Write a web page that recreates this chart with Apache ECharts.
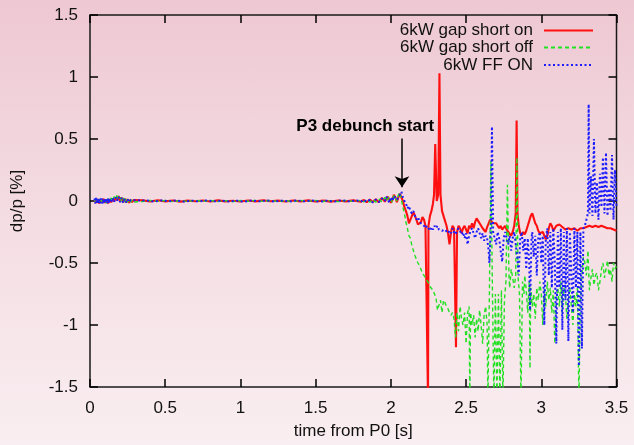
<!DOCTYPE html>
<html>
<head>
<meta charset="utf-8">
<script src="https://cdn.jsdelivr.net/npm/echarts@6/dist/echarts.min.js"></script>
<style>
html,body{margin:0;padding:0;}
#chart{width:634px;height:445px;background:linear-gradient(to bottom,#eec8d2 0%,#f4dde3 50%,#f9eef1 100%);}
</style>
</head>
<body>
<div id="chart"></div>
<script>
// ---- data ----
const seriesNames = ['6kW gap short on', '6kW gap short off', '6kW FF ON'];
const xRange = [0, 3.5, 0.5];     // min, max, tick step  (time from P0 [s])
const yRange = [-1.5, 1.5, 0.5];  // min, max, tick step  (dp/p [%])
const xAxisTitle = 'time from P0 [s]';
const yAxisTitle = 'dp/p [%]';
const annotationText = 'P3 debunch start';
const annotationLabelAt = [1.83, 0.6];
const arrowFrom = [2.074, 0.505];
const arrowTo = [2.074, 0.11];

// 6kW gap short on  [t, dp/p]
const shortOn = [
[0.03,0.01],[0.04,-0.015],[0.05,0.015],[0.06,-0.02],[0.07,0.012],[0.08,-0.012],[0.09,0.018],[0.10,-0.015],[0.11,0.01],[0.12,-0.02],
[0.13,0.015],[0.14,-0.01],[0.15,0.02],[0.16,-0.005],[0.17,0.03],[0.18,0.005],[0.19,0.04],[0.20,0.0],[0.21,0.028],[0.22,-0.012],
[0.23,0.02],[0.24,-0.01],[0.25,0.014],[0.26,-0.014],[0.27,0.01],[0.28,-0.01],[0.29,0.008],[0.30,-0.006],
[0.35,0.005],[0.40,-0.004],[0.45,0.006],[0.50,-0.003],[0.55,0.004],[0.60,-0.005],[0.65,0.003],[0.70,-0.002],[0.75,0.004],[0.80,-0.004],
[0.85,0.005],[0.90,-0.003],[0.95,0.002],[1.00,-0.004],[1.05,0.004],[1.10,-0.003],[1.15,0.005],[1.20,-0.002],[1.25,0.003],[1.30,-0.004],
[1.35,0.004],[1.40,-0.003],[1.45,0.005],[1.50,-0.004],[1.55,0.003],[1.60,-0.005],[1.65,0.004],[1.70,-0.003],[1.75,0.005],[1.80,-0.006],
[1.82,0.008],[1.84,-0.01],[1.86,0.012],[1.88,-0.008],[1.90,0.015],[1.92,-0.01],[1.94,0.025],[1.96,-0.005],[1.97,-0.015],[1.98,0.035],
[1.99,0.02],[2.00,-0.015],[2.01,0.01],[2.02,0.05],[2.03,0.03],[2.04,-0.01],[2.05,0.03],[2.06,0.06],[2.07,0.075],
[2.08,0.0],[2.09,-0.05],[2.10,-0.08],[2.11,-0.12],[2.12,-0.18],[2.13,-0.17],[2.14,-0.12],[2.15,-0.09],[2.16,-0.12],[2.17,-0.15],
[2.18,-0.19],[2.19,-0.2],[2.20,-0.17],[2.21,-0.13],[2.22,-0.15],[2.23,-0.2],[2.24,-0.21],[2.247,-1.6],[2.25,-0.2],[2.26,-0.12],
[2.27,-0.08],[2.28,-0.02],[2.287,0.05],[2.295,0.46],[2.305,0.0],[2.315,0.05],[2.323,1.03],[2.33,0.05],[2.34,-0.08],[2.35,-0.12],
[2.36,-0.16],[2.37,-0.2],[2.38,-0.26],[2.39,-0.35],[2.40,-0.25],[2.41,-0.2],[2.42,-0.22],[2.433,-1.18],[2.44,-0.25],[2.45,-0.2],
[2.46,-0.22],[2.47,-0.26],[2.48,-0.22],[2.49,-0.2],[2.50,-0.23],[2.51,-0.26],[2.52,-0.2],[2.53,-0.22],[2.54,-0.18],[2.55,-0.22],
[2.56,-0.17],[2.57,-0.14],[2.58,-0.16],[2.59,-0.18],[2.60,-0.2],[2.61,-0.22],[2.62,-0.23],[2.63,-0.25],[2.64,-0.21],[2.65,-0.18],
[2.66,-0.15],[2.67,-0.16],[2.68,-0.18],[2.69,-0.19],[2.70,-0.18],[2.71,-0.2],[2.72,-0.22],[2.73,-0.2],[2.74,-0.23],[2.75,-0.22],
[2.76,-0.2],[2.77,-0.23],[2.78,-0.25],[2.79,-0.26],[2.80,-0.28],[2.81,-0.25],[2.82,-0.2],[2.83,-0.1],[2.836,0.65],[2.842,-0.1],
[2.85,-0.2],[2.86,-0.26],[2.87,-0.28],[2.88,-0.25],[2.89,-0.27],[2.90,-0.24],[2.91,-0.2],[2.92,-0.16],[2.93,-0.12],[2.94,-0.1],
[2.95,-0.14],[2.96,-0.18],[2.97,-0.2],[2.98,-0.24],[2.99,-0.26],[3.00,-0.27],[3.01,-0.25],[3.02,-0.28],[3.03,-0.31],[3.04,-0.28],
[3.05,-0.22],[3.06,-0.18],[3.07,-0.2],[3.08,-0.24],[3.09,-0.22],[3.10,-0.2],[3.12,-0.19],[3.14,-0.21],[3.16,-0.23],[3.18,-0.22],
[3.20,-0.23],[3.22,-0.22],[3.24,-0.24],[3.26,-0.22],[3.28,-0.22],[3.30,-0.21],[3.32,-0.2],[3.34,-0.21],[3.36,-0.2],[3.38,-0.21],
[3.40,-0.2],[3.42,-0.21],[3.44,-0.22],[3.46,-0.22],[3.48,-0.23],[3.50,-0.24]
];

// 6kW gap short off  [t, dp/p]
const shortOff = [
[0.03,-0.005],[0.04,0.018],[0.05,-0.01],[0.06,0.015],[0.07,-0.015],[0.08,0.02],[0.09,-0.008],[0.10,0.016],[0.11,-0.018],[0.12,0.02],
[0.13,-0.006],[0.14,0.025],[0.15,-0.002],[0.16,0.035],[0.17,0.01],[0.18,0.055],[0.19,0.02],[0.20,0.04],[0.21,-0.005],[0.22,0.025],
[0.23,-0.015],[0.24,0.02],[0.25,-0.01],[0.26,0.015],[0.27,-0.01],[0.28,0.01],[0.29,-0.008],[0.30,0.008],
[0.35,-0.004],[0.40,0.005],[0.45,-0.003],[0.50,0.004],[0.55,-0.005],[0.60,0.003],[0.65,-0.004],[0.70,0.005],[0.75,-0.002],[0.80,0.004],
[0.85,-0.004],[0.90,0.003],[0.95,-0.005],[1.00,0.004],[1.05,-0.002],[1.10,0.005],[1.15,-0.003],[1.20,0.004],[1.25,-0.004],[1.30,0.003],
[1.35,-0.005],[1.40,0.004],[1.45,-0.002],[1.50,0.005],[1.55,-0.004],[1.60,0.003],[1.65,-0.005],[1.70,0.004],[1.75,-0.003],[1.80,0.006],
[1.82,-0.008],[1.84,0.01],[1.86,-0.01],[1.88,0.012],[1.90,-0.01],[1.92,0.015],[1.94,-0.005],[1.96,0.03],[1.97,0.0],[1.98,-0.015],
[1.99,0.035],[2.00,0.02],[2.01,-0.01],[2.02,0.045],[2.03,0.02],[2.04,0.0],[2.05,0.05],[2.06,0.07],[2.07,0.06],
[2.08,-0.05],[2.09,-0.1],[2.10,-0.17],[2.11,-0.22],[2.12,-0.28],[2.13,-0.3],[2.14,-0.36],[2.15,-0.4],[2.16,-0.44],[2.17,-0.47],
[2.18,-0.5],[2.19,-0.52],[2.20,-0.55],[2.21,-0.58],[2.22,-0.6],[2.23,-0.62],[2.24,-0.63],[2.25,-0.66],[2.26,-0.69],[2.27,-0.7],
[2.28,-0.72],[2.29,-0.75],[2.30,-0.78],[2.31,-0.88],[2.32,-0.84],[2.33,-0.8],[2.34,-0.9],[2.35,-0.8],[2.36,-0.82],[2.37,-0.85],
[2.38,-0.87],[2.39,-0.9],[2.40,-0.92],[2.41,-0.9],[2.42,-0.95],[2.43,-1.1],[2.44,-0.9],[2.45,-1.05],[2.46,-0.85],[2.47,-0.95],
[2.48,-1.0],[2.49,-0.9],[2.50,-1.15],[2.51,-0.9],[2.52,-0.85],[2.525,-1.6],[2.53,-0.9],[2.54,-1.0],[2.55,-0.92],[2.56,-1.1],
[2.57,-0.95],[2.58,-1.05],[2.59,-0.88],[2.60,-1.0],[2.61,-1.15],[2.62,-0.92],[2.63,-0.85],[2.64,-1.0],[2.645,-1.6],[2.655,-0.75],
[2.665,0.32],[2.675,-0.7],[2.685,-1.6],[2.695,-0.75],[2.705,-1.6],[2.715,-0.75],[2.725,-1.6],[2.735,-0.72],[2.745,-1.6],[2.755,-0.8],
[2.765,-0.65],[2.775,0.13],[2.785,-0.6],[2.79,-0.7],[2.80,-0.55],[2.81,-0.62],[2.82,-0.7],[2.83,-0.6],[2.838,0.35],[2.845,-0.6],
[2.855,-0.75],[2.865,-1.6],[2.875,-0.65],[2.885,-0.75],[2.89,-0.6],[2.90,-0.72],[2.91,-0.9],[2.92,-0.65],[2.925,-1.35],[2.93,-0.7],
[2.94,-0.85],[2.95,-0.75],[2.96,-0.95],[2.97,-0.7],[2.98,-0.8],[2.99,-0.65],[3.00,-0.75],[3.01,-1.0],[3.02,-0.7],[3.03,-0.85],
[3.04,-0.65],[3.05,-0.8],[3.06,-0.7],[3.07,-0.9],[3.08,-0.72],[3.09,-1.15],[3.10,-0.8],[3.11,-0.7],[3.12,-0.85],[3.13,-0.65],
[3.14,-0.9],[3.15,-0.7],[3.16,-0.75],[3.17,-0.95],[3.18,-0.8],[3.19,-0.7],[3.20,-0.85],[3.21,-1.0],[3.22,-0.75],[3.23,-0.85],
[3.24,-0.7],[3.25,-1.6],[3.26,-0.8],[3.27,-0.6],[3.28,-0.45],[3.29,-0.5],[3.30,-0.6],[3.31,-0.4],[3.32,-0.72],[3.33,-0.62],
[3.34,-0.55],[3.35,-0.68],[3.36,-0.6],[3.37,-0.58],[3.38,-0.72],[3.39,-0.65],[3.40,-0.55],[3.41,-0.5],[3.42,-0.62],[3.43,-0.55],
[3.44,-0.48],[3.45,-0.6],[3.46,-0.55],[3.47,-0.65],[3.48,-0.5],[3.49,-0.55],[3.50,-0.52]
];

// 6kW FF ON  [t, dp/p]
const ffOn = [
[0.03,0.02],[0.035,-0.02],[0.04,0.025],[0.045,-0.015],[0.05,0.02],[0.055,-0.025],[0.06,0.018],[0.065,-0.02],[0.07,0.022],[0.075,-0.018],
[0.08,0.02],[0.085,-0.022],[0.09,0.018],[0.095,-0.02],[0.10,0.022],[0.105,-0.015],[0.11,0.02],[0.115,-0.02],[0.12,0.018],[0.125,-0.015],
[0.13,0.02],[0.14,-0.012],[0.15,0.025],[0.16,-0.01],[0.17,0.03],[0.18,0.0],[0.19,0.035],[0.20,-0.01],[0.21,0.025],[0.22,-0.015],
[0.23,0.018],[0.24,-0.012],[0.25,0.012],[0.26,-0.01],[0.27,0.008],[0.28,-0.008],[0.29,0.006],[0.30,-0.005],
[0.375,0.004],[0.425,-0.004],[0.475,0.005],[0.525,-0.003],[0.575,0.004],[0.625,-0.005],[0.675,0.003],[0.725,-0.004],[0.775,0.005],[0.825,-0.003],
[0.875,0.004],[0.925,-0.004],[0.975,0.003],[1.025,-0.005],[1.075,0.004],[1.125,-0.003],[1.175,0.005],[1.225,-0.004],[1.275,0.003],[1.325,-0.004],
[1.375,0.005],[1.425,-0.003],[1.475,0.004],[1.525,-0.005],[1.575,0.003],[1.625,-0.004],[1.675,0.005],[1.725,-0.003],[1.775,0.004],
[1.80,-0.006],[1.82,0.01],[1.84,-0.008],[1.86,0.01],[1.88,-0.012],[1.90,0.012],[1.92,-0.008],[1.94,0.02],[1.96,0.0],[1.97,0.035],
[1.98,0.01],[1.99,-0.015],[2.00,0.03],[2.01,0.0],[2.02,0.04],[2.03,0.05],[2.04,0.01],[2.05,0.0],[2.06,0.05],[2.07,0.075],
[2.08,0.03],[2.09,0.0],[2.10,-0.02],[2.11,-0.06],[2.12,-0.04],[2.13,-0.08],[2.14,-0.1],[2.15,-0.08],[2.16,-0.12],[2.17,-0.15],
[2.18,-0.13],[2.19,-0.16],[2.20,-0.18],[2.21,-0.17],[2.22,-0.2],[2.23,-0.22],[2.24,-0.2],[2.25,-0.22],[2.26,-0.24],[2.27,-0.21],
[2.28,-0.23],[2.29,-0.2],[2.30,-0.22],[2.31,-0.2],[2.32,-0.23],[2.33,-0.22],[2.34,-0.24],[2.35,-0.25],[2.36,-0.23],[2.37,-0.24],
[2.38,-0.26],[2.39,-0.24],[2.40,-0.26],[2.41,-0.22],[2.42,-0.25],[2.43,-0.27],[2.44,-0.24],[2.45,-0.22],[2.46,-0.24],[2.47,-0.27],
[2.48,-0.25],[2.49,-0.3],[2.50,-0.26],[2.51,-0.35],[2.52,-0.28],[2.53,-0.24],[2.54,-0.22],[2.55,-0.26],[2.56,-0.3],[2.57,-0.25],
[2.58,-0.22],[2.59,-0.26],[2.60,-0.3],[2.61,-0.26],[2.62,-0.32],[2.63,-0.28],[2.64,-0.3],[2.65,-0.4],[2.655,-0.5],[2.665,-0.2],
[2.672,0.6],[2.68,-0.25],[2.69,-0.3],[2.70,-0.35],[2.71,-0.25],[2.72,-0.3],[2.73,-0.4],[2.74,-0.49],[2.75,-0.3],[2.76,-0.25],
[2.77,-0.3],[2.78,-0.35],[2.79,-0.28],[2.80,-0.4],[2.81,-0.3],[2.82,-0.25],[2.83,-0.35],[2.84,-0.45],[2.85,-0.6],[2.86,-0.3],
[2.87,-0.25],[2.88,-0.4],[2.89,-0.3],[2.90,-0.55],[2.91,-0.3],[2.92,-0.5],[2.925,-0.88],[2.935,-0.3],[2.94,-0.25],[2.95,-0.45],
[2.96,-0.28],[2.97,-0.6],[2.98,-0.3],[2.99,-0.25],[3.00,-0.5],[3.01,-0.28],[3.02,-1.0],[3.03,-0.3],[3.04,-0.22],[3.05,-0.6],
[3.06,-0.25],[3.07,-0.7],[3.08,-0.22],[3.09,-0.5],[3.10,-1.15],[3.11,-0.25],[3.12,-0.7],[3.13,-0.22],[3.14,-1.04],[3.15,-0.25],
[3.16,-0.8],[3.17,-0.22],[3.18,-1.13],[3.19,-0.25],[3.20,-0.6],[3.21,-0.9],[3.22,-0.22],[3.23,-0.7],[3.24,-0.25],[3.25,-1.33],
[3.26,-0.25],[3.27,-1.19],[3.28,-0.22],[3.29,-0.2],[3.30,-0.15],[3.31,-0.1],[3.315,0.78],[3.32,-0.1],[3.33,0.2],[3.34,-0.12],
[3.35,0.5],[3.36,-0.1],[3.37,0.15],[3.38,-0.15],[3.39,0.22],[3.40,-0.05],[3.41,0.35],[3.42,-0.1],[3.43,0.39],[3.44,-0.12],
[3.45,0.1],[3.46,-0.08],[3.47,0.37],[3.48,-0.15],[3.49,0.25],[3.50,-0.05]
];

// ---- chart ----
const FONT = "'Liberation Sans', Arial, sans-serif";
const colors = ['#ff1010', '#22e022', '#1c1cff'];
const lineTypes = ['solid', [4, 3], [2, 2.5]];
const widths = [2.1, 1.4, 2];
const datasets = [shortOn, shortOff, ffOn];
const legendTops = [22, 39, 56.5];

const chart = echarts.init(document.getElementById('chart'), null, {renderer: 'canvas'});

function tickStyle() {
  return {show: true, inside: true, length: 8, lineStyle: {color: '#000', width: 1.5}};
}

const series = datasets.map((d, i) => ({
  type: 'line',
  name: seriesNames[i],
  data: d,
  symbol: 'none',
  showSymbol: false,
  clip: true,
  animation: false,
  z: 2 + i,
  itemStyle: {color: colors[i]},
  lineStyle: {color: colors[i], width: widths[i], type: lineTypes[i]}
}));

series.push({
  type: 'line',
  name: 'annotation',
  data: [],
  silent: true,
  animation: false,
  z: 10,
  markLine: {
    silent: true,
    animation: false,
    symbol: ['none', 'arrow'],
    symbolSize: 11,
    label: {show: false},
    lineStyle: {color: '#000', type: 'solid', width: 1.5},
    data: [[{coord: arrowFrom}, {coord: arrowTo}]]
  },
  markPoint: {
    silent: true,
    animation: false,
    symbol: 'rect',
    symbolSize: 1,
    itemStyle: {color: 'rgba(0,0,0,0)'},
    label: {show: true, position: 'inside', formatter: annotationText, fontFamily: FONT,
            fontSize: 17, fontWeight: 'bold', color: '#000'},
    data: [{coord: annotationLabelAt}]
  }
});

const option = {
  backgroundColor: 'transparent',
  animation: false,
  textStyle: {fontFamily: FONT},
  grid: {left: 90, right: 17.5, top: 15, bottom: 53, show: true, borderColor: '#1a1a1a', borderWidth: 1.5, backgroundColor: 'transparent'},
  legend: seriesNames.map((n, i) => ({
    data: [n],
    right: 40,
    top: legendTops[i],
    orient: 'horizontal',
    align: 'right',
    padding: 0,
    itemGap: 0,
    itemWidth: 49,
    itemHeight: 12,
    selectedMode: false,
    itemStyle: {color: 'rgba(0,0,0,0)', borderColor: 'rgba(0,0,0,0)', borderWidth: 0},
    textStyle: {fontFamily: FONT, fontSize: 17, color: '#111', padding: [0, 6, 0, 0]}
  })),
  xAxis: [
    {
      type: 'value', position: 'bottom', min: xRange[0], max: xRange[1], interval: xRange[2],
      splitLine: {show: false}, axisLine: {show: false, onZero: false}, axisTick: tickStyle(),
      name: xAxisTitle, nameLocation: 'middle', nameGap: 36,
      nameTextStyle: {fontFamily: FONT, fontSize: 17, color: '#111'},
      axisLabel: {margin: 13, fontFamily: FONT, fontSize: 17, color: '#111'}
    },
    {
      type: 'value', position: 'top', min: xRange[0], max: xRange[1], interval: xRange[2],
      splitLine: {show: false}, axisLine: {show: false, onZero: false}, axisTick: tickStyle(),
      axisLabel: {show: false}
    }
  ],
  yAxis: [
    {
      type: 'value', position: 'left', min: yRange[0], max: yRange[1], interval: yRange[2],
      splitLine: {show: false}, axisLine: {show: false, onZero: false}, axisTick: tickStyle(),
      name: yAxisTitle, nameLocation: 'middle', nameGap: 64, nameRotate: 90,
      nameTextStyle: {fontFamily: FONT, fontSize: 17, color: '#111'},
      axisLabel: {margin: 12, fontFamily: FONT, fontSize: 17, color: '#111'}
    },
    {
      type: 'value', position: 'right', min: yRange[0], max: yRange[1], interval: yRange[2],
      splitLine: {show: false}, axisLine: {show: false, onZero: false}, axisTick: tickStyle(),
      axisLabel: {show: false}
    }
  ],
  series: series
};

chart.setOption(option);
</script>
</body>
</html>
